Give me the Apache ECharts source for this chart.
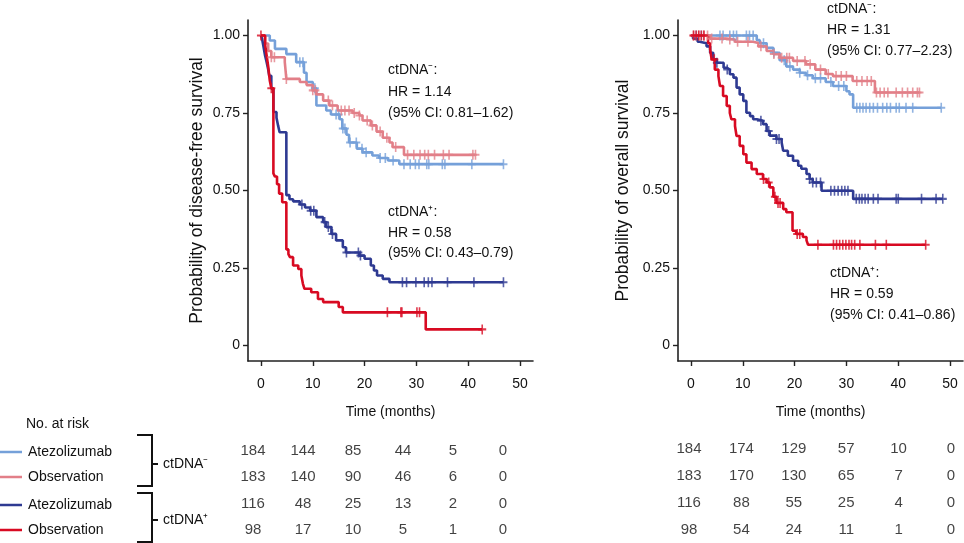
<!DOCTYPE html>
<html>
<head>
<meta charset="utf-8">
<script src="https://cdn.jsdelivr.net/npm/echarts@6/dist/echarts.min.js"></script>
<style>
  html, body {margin: 0; padding: 0; background: #fff;}
  #chart {width: 964px; height: 543px;}
</style>
</head>
<body>
<div id="chart"></div>
<script>
// KM step points [months, survival after the drop]; curves continue flat to *End
const dfsAtezoNeg = [[0, 1], [1.7, 0.984], [2.7, 0.957], [4.9, 0.94], [6.8, 0.914], [8.3, 0.88], [8.8, 0.85], [10, 0.83], [10.7, 0.774], [12.6, 0.758], [13.5, 0.745], [15.2, 0.73], [15.7, 0.70], [16.5, 0.68], [17, 0.655], [18.5, 0.635], [19.6, 0.623], [21.5, 0.613], [22.8, 0.605], [24.5, 0.597], [26.7, 0.585]]
const dfsObsNeg = [[0, 1], [0.8, 0.974], [1.4, 0.95], [2, 0.93], [4.6, 0.914], [4.9, 0.86], [7.5, 0.85], [8.8, 0.84], [10, 0.823], [10.7, 0.81], [12, 0.79], [13.2, 0.774], [14.8, 0.758], [17.7, 0.75], [19, 0.742], [19.6, 0.726], [21.2, 0.71], [22.3, 0.69], [23.5, 0.67], [24.8, 0.655], [25.4, 0.64], [27.6, 0.615]]
const dfsAtezoPos = [[0, 1], [0.2, 0.99], [0.45, 0.968], [0.8, 0.935], [1.1, 0.914], [1.4, 0.89], [1.6, 0.87], [2.0, 0.828], [2.4, 0.753], [3.0, 0.735], [3.3, 0.71], [3.6, 0.688], [4.9, 0.485], [5.5, 0.472], [6.2, 0.465], [7.5, 0.455], [8.5, 0.445], [9.5, 0.435], [10.7, 0.414], [12, 0.398], [12.6, 0.382], [13.6, 0.36], [14.5, 0.339], [15.8, 0.317], [16.4, 0.30], [19, 0.29], [20, 0.28], [21.2, 0.258], [21.8, 0.242], [22.4, 0.226], [23.5, 0.215], [24.8, 0.204]]
const dfsObsPos = [[0, 1], [0.8, 0.97], [1.1, 0.935], [1.4, 0.9], [1.7, 0.855], [2.0, 0.83], [2.4, 0.555], [2.7, 0.545], [3.1, 0.52], [3.5, 0.49], [4.1, 0.462], [4.9, 0.31], [5.3, 0.295], [5.6, 0.285], [6.2, 0.258], [7.2, 0.247], [7.8, 0.226], [8.1, 0.199], [8.4, 0.183], [9.7, 0.172], [11, 0.15], [12, 0.14], [15, 0.124], [15.8, 0.107], [31.8, 0.052]]
const dfsEnd = [46.8, 41.4, 46.8, 42.7]

const dfsAtezoNegCens = [7.5, 8.1, 10.4, 14.5, 15.0, 15.8, 16.2, 17.2, 18.4, 19.5, 20.3, 23, 24, 25.5, 27.6, 28.8, 29.8, 30.5, 32.0, 32.4, 35, 35.5, 40.7, 46.8]
const dfsObsNegCens = [2.0, 2.6, 4.9, 10.0, 10.5, 13.0, 13.8, 15.5, 16.2, 17, 18, 19, 20.5, 21.5, 23, 24.3, 26, 28.3, 29.5, 30.7, 31.6, 32.3, 33.5, 35.2, 36.3, 40.9, 41.4]
const dfsAtezoPosCens = [7.9, 9.6, 10.2, 12.3, 13.0, 13.8, 16.5, 18.8, 19.2, 27.3, 28.1, 29.9, 31.5, 32.3, 33, 36, 41.1, 46.8]
const dfsObsPosCens = [0, 2.0, 24.4, 27.0, 27.2, 30.1, 30.6, 42.7]

const osAtezoNeg = [[0, 1], [12.7, 0.985], [13.3, 0.975], [14.6, 0.96], [15.9, 0.944], [17.1, 0.92], [18.4, 0.90], [19.7, 0.89], [21, 0.88], [22.2, 0.872], [23.5, 0.862], [26, 0.85], [27.4, 0.837], [30, 0.82], [30.6, 0.81], [31.3, 0.767]]
const osObsNeg = [[0, 1], [3.7, 0.99], [6.9, 0.987], [8.5, 0.98], [12, 0.976], [13, 0.965], [14.6, 0.95], [15.9, 0.94], [17.1, 0.928], [19.7, 0.918], [22.2, 0.907], [24, 0.89], [26, 0.876], [27.4, 0.869], [31.2, 0.853], [35.5, 0.816]]
const osAtezoPos = [[0, 1], [0.4, 0.99], [1.3, 0.98], [1.7, 0.975], [3.0, 0.965], [3.7, 0.944], [4.3, 0.923], [5.0, 0.912], [6.3, 0.896], [6.9, 0.89], [7.5, 0.875], [8.2, 0.864], [8.8, 0.832], [9.4, 0.81], [10.1, 0.789], [10.7, 0.751], [11.4, 0.74], [12, 0.73], [12.7, 0.725], [13.9, 0.714], [14.6, 0.692], [15.2, 0.677], [16.5, 0.666], [17.5, 0.655], [17.8, 0.628], [18.7, 0.612], [19.7, 0.596], [20.7, 0.58], [21.3, 0.57], [22.3, 0.553], [22.9, 0.537], [23.5, 0.526], [25.2, 0.499], [31.3, 0.473]]
const osObsPos = [[0, 1], [3.3, 0.975], [3.7, 0.955], [4.0, 0.923], [4.6, 0.89], [5.3, 0.869], [5.6, 0.837], [6.2, 0.805], [6.9, 0.773], [7.5, 0.75], [7.8, 0.73], [8.5, 0.708], [8.8, 0.676], [9.4, 0.644], [10.1, 0.617], [10.7, 0.59], [11.7, 0.569], [12.7, 0.553], [13.9, 0.537], [14.6, 0.526], [15.2, 0.51], [15.9, 0.48], [16.5, 0.46], [17.8, 0.44], [18.4, 0.43], [19.6, 0.37], [20.3, 0.36], [21.6, 0.35], [22.3, 0.339], [22.6, 0.325]]
const osEnd = [48.3, 44.1, 48.6, 45.3]

const osAtezoNegCens = [1, 2, 5.6, 6.2, 7.5, 8.2, 8.8, 10.7, 11.3, 12, 14, 16, 18, 19.1, 21, 22.5, 24, 25, 27, 28.5, 29.5, 32, 32.6, 33.2, 33.8, 34.5, 35.2, 36, 37, 37.8, 38.5, 39.6, 40.2, 41.5, 42.8, 48.3]
const osObsNegCens = [0.5, 1.5, 2.5, 3.2, 4, 6, 7.5, 9, 11, 13.5, 16, 17.5, 18.5, 19, 20.5, 22, 23, 25, 26.5, 28, 29, 30, 32, 33, 34, 34.8, 35.8, 36.5, 37.3, 38, 39.6, 40.8, 41.8, 42.8, 43.7, 44.1]
const osAtezoPosCens = [5, 7, 13.5, 15, 16.5, 17, 22.9, 23.5, 24.2, 25, 27, 27.7, 28.4, 29.1, 29.7, 30.3, 31.9, 32.5, 33, 33.6, 34.2, 35.2, 36.1, 39.6, 40, 44.5, 47.3, 48.6]
const osObsPosCens = [0.5, 1.0, 1.5, 2.0, 2.5, 4.5, 14, 15, 16.2, 16.8, 17.2, 20.5, 21, 24.5, 27.5, 28.1, 28.7, 29.3, 29.9, 30.5, 31.0, 31.6, 32.6, 35.6, 37.7, 45.3]

// numbers at risk
const riskTimes = [0, 10, 20, 30, 40, 50]
const dfsRisk = [
  [184, 144, 85, 44, 5, 0],
  [183, 140, 90, 46, 6, 0],
  [116, 48, 25, 13, 2, 0],
  [98, 17, 10, 5, 1, 0]
]
const osRisk = [
  [184, 174, 129, 57, 10, 0],
  [183, 170, 130, 65, 7, 0],
  [116, 88, 55, 25, 4, 0],
  [98, 54, 24, 11, 1, 0]
]

const xTicks = [0, 10, 20, 30, 40, 50]
const yTicks = [0, 0.25, 0.5, 0.75, 1]
const groupNames = ['Atezolizumab', 'Observation', 'Atezolizumab', 'Observation']
const colors = ['#75a0d9', '#e27f88', '#2e3a92', '#d80a22']

const FONT = '"Liberation Sans", Arial, sans-serif'
const FS = 14
const TXT = '#111'

const survAt = (curve, t) => {
  let s = curve[0][1]
  for (const [ti, si] of curve) if (ti <= t) s = si
  return s
}

const kmLine = (curve, end, color, g) => ({
  type: 'line', xAxisIndex: g, yAxisIndex: g,
  step: 'end', showSymbol: false, silent: true,
  data: curve.concat([[end, curve[curve.length - 1][1]]]),
  lineStyle: {color, width: 2.6},
  z: 3
})

const kmCens = (curve, times, color, g) => ({
  type: 'scatter', xAxisIndex: g, yAxisIndex: g, silent: true,
  symbol: 'path://M5,0L5,10M0,5L10,5',
  symbolSize: [8, 10],
  itemStyle: {color: 'none', borderColor: color, borderWidth: 1.8},
  data: times.map(t => [t, survAt(curve, t)]),
  z: 4
})

const plotX = (g) => ({
  gridIndex: g, type: 'value', min: -2.5, max: 52.5,
  axisLine: {show: true, onZero: false, lineStyle: {color: '#222', width: 1.6}},
  axisTick: {show: true, length: 5, customValues: xTicks, lineStyle: {color: '#222', width: 1.4}},
  axisLabel: {customValues: xTicks, margin: 16, color: TXT, fontSize: FS, fontFamily: FONT},
  splitLine: {show: false},
  name: 'Time (months)', nameLocation: 'middle', nameGap: 44,
  nameTextStyle: {color: TXT, fontSize: FS, fontFamily: FONT}
})

const plotY = (g, name, gap) => ({
  gridIndex: g, type: 'value', min: -0.05, max: 1.05,
  axisLine: {show: true, onZero: false, lineStyle: {color: '#222', width: 1.6}},
  axisTick: {show: true, length: 5, customValues: yTicks, lineStyle: {color: '#222', width: 1.4}},
  axisLabel: {customValues: yTicks, margin: 8, color: TXT, fontSize: FS, fontFamily: FONT,
    formatter: v => v === 0 ? '0' : v.toFixed(2)},
  splitLine: {show: false},
  name, nameLocation: 'middle', nameGap: gap,
  nameTextStyle: {color: TXT, fontSize: 17.5, fontFamily: FONT}
})

const riskX = (g) => ({gridIndex: g, type: 'value', min: 0, max: 50, show: false})
const riskY = (g) => ({gridIndex: g, type: 'value', min: 0, max: 3, inverse: true, show: false})

const riskSeries = (table, g) => table.map((row, r) => ({
  type: 'scatter', xAxisIndex: g, yAxisIndex: g, silent: true,
  symbolSize: 1, itemStyle: {color: 'rgba(0,0,0,0)'},
  label: {show: true, position: 'inside', formatter: p => String(p.value[2]),
    color: TXT, fontSize: FS + 1, fontFamily: FONT},
  data: riskTimes.map((t, i) => [t, r, row[i]])
}))

const txt = (x, y, text, extra) => ({
  type: 'text', x, y, silent: true,
  style: Object.assign({text, fill: TXT, fontSize: FS, fontFamily: FONT, align: 'left', verticalAlign: 'middle'}, extra || {})
})

const legendRows = [452, 477, 505, 530]
const graphic = [
  txt(388, 70, 'ctDNA\u207B:'), txt(388, 92, 'HR = 1.14'), txt(388, 113, '(95% CI: 0.81\u20131.62)'),
  txt(388, 212, 'ctDNA\u207A:'), txt(388, 233, 'HR = 0.58'), txt(388, 253, '(95% CI: 0.43\u20130.79)'),
  txt(827, 9, 'ctDNA\u207B:'), txt(827, 30, 'HR = 1.31'), txt(827, 51, '(95% CI: 0.77\u20132.23)'),
  txt(830, 273, 'ctDNA\u207A:'), txt(830, 294, 'HR = 0.59'), txt(830, 315, '(95% CI: 0.41\u20130.86)'),
  txt(26, 424, 'No. at risk'),
  txt(163, 464, 'ctDNA\u207B'), txt(163, 520, 'ctDNA\u207A'),
  {type: 'polyline', silent: true, shape: {points: [[137, 435], [152, 435], [152, 486], [137, 486]]}, style: {stroke: '#111', lineWidth: 2, fill: null}},
  {type: 'line', silent: true, shape: {x1: 152, y1: 464, x2: 158, y2: 464}, style: {stroke: '#111', lineWidth: 2}},
  {type: 'polyline', silent: true, shape: {points: [[137, 493], [152, 493], [152, 542], [137, 542]]}, style: {stroke: '#111', lineWidth: 2, fill: null}},
  {type: 'line', silent: true, shape: {x1: 152, y1: 520, x2: 158, y2: 520}, style: {stroke: '#111', lineWidth: 2}}
]
groupNames.forEach((n, i) => {
  graphic.push({type: 'line', silent: true, shape: {x1: 0, y1: legendRows[i], x2: 22, y2: legendRows[i]}, style: {stroke: colors[i], lineWidth: 2.5}})
  graphic.push(txt(28, legendRows[i], n))
})

const dfsCurves = [dfsAtezoNeg, dfsObsNeg, dfsAtezoPos, dfsObsPos]
const dfsCens = [dfsAtezoNegCens, dfsObsNegCens, dfsAtezoPosCens, dfsObsPosCens]
const osCurves = [osAtezoNeg, osObsNeg, osAtezoPos, osObsPos]
const osCens = [osAtezoNegCens, osObsNegCens, osAtezoPosCens, osObsPosCens]

const series = []
dfsCurves.forEach((c, i) => series.push(kmLine(c, dfsEnd[i], colors[i], 0), kmCens(c, dfsCens[i], colors[i], 0)))
osCurves.forEach((c, i) => series.push(kmLine(c, osEnd[i], colors[i], 1), kmCens(c, osCens[i], colors[i], 1)))
series.push(...riskSeries(dfsRisk, 2), ...riskSeries(osRisk, 3))

const chart = echarts.init(document.getElementById('chart'), null, {renderer: 'canvas'})
chart.setOption({
  backgroundColor: '#fff',
  animation: false,
  grid: [
    {left: 248, top: 20, width: 285, height: 341, outerBoundsMode: 'none'},
    {left: 678, top: 20, width: 285, height: 341, outerBoundsMode: 'none'},
    {left: 253, top: 451, width: 250, height: 79, outerBoundsMode: 'none'},
    {left: 689, top: 449, width: 262, height: 81, outerBoundsMode: 'none'}
  ],
  xAxis: [plotX(0), plotX(1), riskX(2), riskX(3)],
  yAxis: [
    plotY(0, 'Probability of disease-free survival', 42),
    plotY(1, 'Probability of overall survival', 46),
    riskY(2), riskY(3)
  ],
  series,
  graphic
})
</script>
</body>
</html>
